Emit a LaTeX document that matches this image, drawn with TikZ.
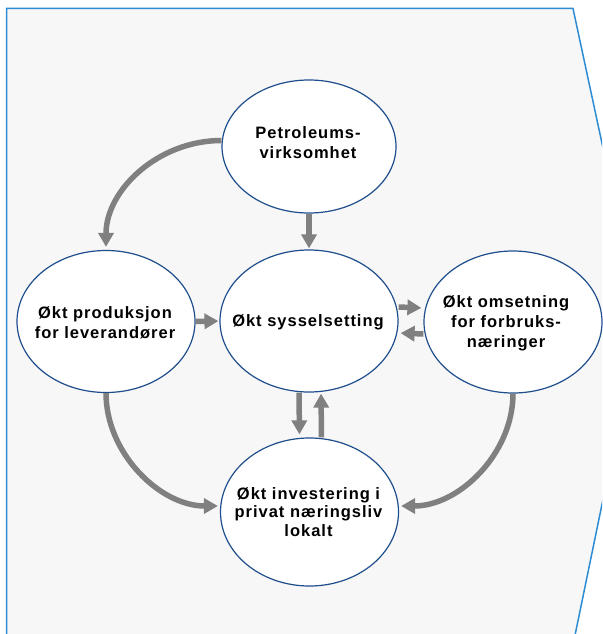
\documentclass[tikz,border=0pt]{standalone}
\usepackage{fontspec}
\newfontfamily\labfont{Liberation Sans}[LetterSpace=6]
\usetikzlibrary{shapes.geometric,arrows.meta}
\definecolor{bgfill}{HTML}{F7F7F7}
\definecolor{bgline}{RGB}{45,140,212}
\definecolor{ellline}{RGB}{31,78,140}
\definecolor{arrgray}{RGB}{128,128,128}
\tikzset{
  bubble/.style={ellipse, draw=ellline, line width=1.2pt, fill=white, inner sep=0pt,
    minimum width=178pt, minimum height=142pt},
  lab/.style={align=center, inner sep=0pt,
    font=\labfont\bfseries\fontsize{16.5}{20}\selectfont},
  arr/.style={draw=arrgray, line width=5.5pt, -{Triangle[length=14pt,width=15pt]}},
}
\begin{document}
\begin{tikzpicture}[x=1pt,y=-1pt]
\useasboundingbox (0,0) rectangle (602,634);
\begin{scope}
\clip (0,0) rectangle (602,634);
\draw[fill=bgfill, draw=bgline, line width=1.5pt]
  (6.5,8.5) -- (573,8.5) -- (640,320) -- (573,645) -- (6.5,645) -- cycle;
\end{scope}
\node[bubble, minimum width=174pt, minimum height=133pt] (pet) at (309,146.5) {};
\node[bubble] (sys) at (309,321) {};
\node[bubble] (prod) at (106,321.5) {};
\node[bubble] (oms) at (513,322) {};
\node[bubble, minimum height=148pt] (inv) at (309.5,512) {};
\node[lab] (petT) at (308,143) {Petroleums-\\virksomhet};
\node[lab] (sysT) at (308,322) {Økt sysselsetting};
\node[lab] (prodT) at (105,323) {Økt produksjon\\for leverandører};
\node[lab] (omsT) at (506,323) {Økt omsetning\\for forbruks-\\næringer};
\node[lab, font=\labfont\bfseries\fontsize{16.5}{18.2}\selectfont] (invT) at (308.5,512) {Økt investering i\\privat næringsliv\\lokalt};
% straight connectors
\draw[arr, shorten >=1pt] (pet.south) -- (sys.north);
\draw[arr, shorten >=2pt] ([yshift=14pt]sys.east) -- ([yshift=14pt]oms.west);
\draw[arr, shorten >=2pt] ([yshift=-12pt]oms.west) -- ([yshift=-12pt]sys.east);
\draw[arr, shorten >=3pt] ([xshift=-10pt]sys.south) -- ([xshift=-10pt]inv.north);
\draw[arr, shorten >=1pt] ([xshift=12pt]inv.north) -- ([xshift=12pt]sys.south);
\draw[arr, shorten >=1pt] (prod.east) -- (sys.west);
% curved connectors
\draw[arr, shorten >=3pt] ([yshift=6pt]pet.west) .. controls +(-63,0) and +(0,-60) .. (prod.north);
\draw[arr, shorten >=2pt] (prod.south) .. controls +(0,60) and +(-60,0) .. ([yshift=6pt]inv.west);
\draw[arr, shorten >=2pt] (oms.south) .. controls +(0,60) and +(60,0) .. ([yshift=6pt]inv.east);
\end{tikzpicture}
\end{document}
